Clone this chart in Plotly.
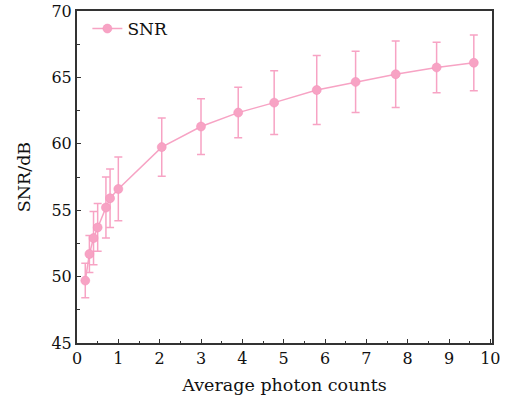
import plotly.graph_objects as go

photon_counts = [0.2, 0.3, 0.4, 0.5, 0.7, 0.8, 1.0, 2.05, 3.0, 3.9, 4.77, 5.8, 6.74, 7.71, 8.7, 9.6]
snr_db = [49.7, 51.7, 52.9, 53.7, 55.2, 55.9, 56.6, 59.75, 61.3, 62.35, 63.1, 64.05, 64.66, 65.24, 65.75, 66.1]
snr_err = [1.3, 1.4, 2.0, 1.8, 2.3, 2.2, 2.4, 2.2, 2.1, 1.9, 2.4, 2.6, 2.3, 2.5, 1.9, 2.1]

x_ticks = list(range(0, 11))
y_ticks = [45, 50, 55, 60, 65, 70]

pink = "#F7A3C4"
font_family = "DejaVu Serif, serif"

fig = go.Figure()
fig.add_trace(go.Scatter(
    x=photon_counts, y=snr_db, mode="lines+markers", name="SNR",
    line=dict(color=pink, width=1.5),
    marker=dict(color=pink, size=9, line=dict(color="#F48FB8", width=0.5)),
    error_y=dict(type="data", array=snr_err, visible=True, color=pink, thickness=1.5, width=4),
))

axis_common = dict(
    showgrid=False, zeroline=False, showline=True, linecolor="#333333", linewidth=2,
    mirror=True, ticks="inside", ticklen=4, tickwidth=1.2, tickcolor="#333333",
    tickfont=dict(family=font_family, size=16, color="#111111"), automargin=False,
)
fig.update_xaxes(
    range=[0, 10.04], tickvals=x_ticks,
    minor=dict(ticks="inside", ticklen=2.5, tickwidth=1, tickcolor="#333333", dtick=0.5, tick0=0),
    title=dict(text="Average photon counts", font=dict(family=font_family, size=17.5, color="#111111"), standoff=12),
    **axis_common,
)
fig.update_yaxes(
    range=[45, 70], tickvals=y_ticks,
    minor=dict(ticks="inside", ticklen=2.5, tickwidth=1, tickcolor="#333333", dtick=2.5, tick0=45),
    title=dict(text="SNR/dB", font=dict(family=font_family, size=17.5, color="#111111"), standoff=16),
    **axis_common,
)
fig.update_layout(
    width=507, height=401,
    margin=dict(l=77, r=15, t=11, b=58, autoexpand=False),
    plot_bgcolor="white", paper_bgcolor="white",
    showlegend=True,
    legend=dict(x=0.025, y=1.0, xanchor="left", yanchor="top", bgcolor="rgba(0,0,0,0)",
                font=dict(family=font_family, size=17, color="#111111")),
)
fig.write_html("out.html")
